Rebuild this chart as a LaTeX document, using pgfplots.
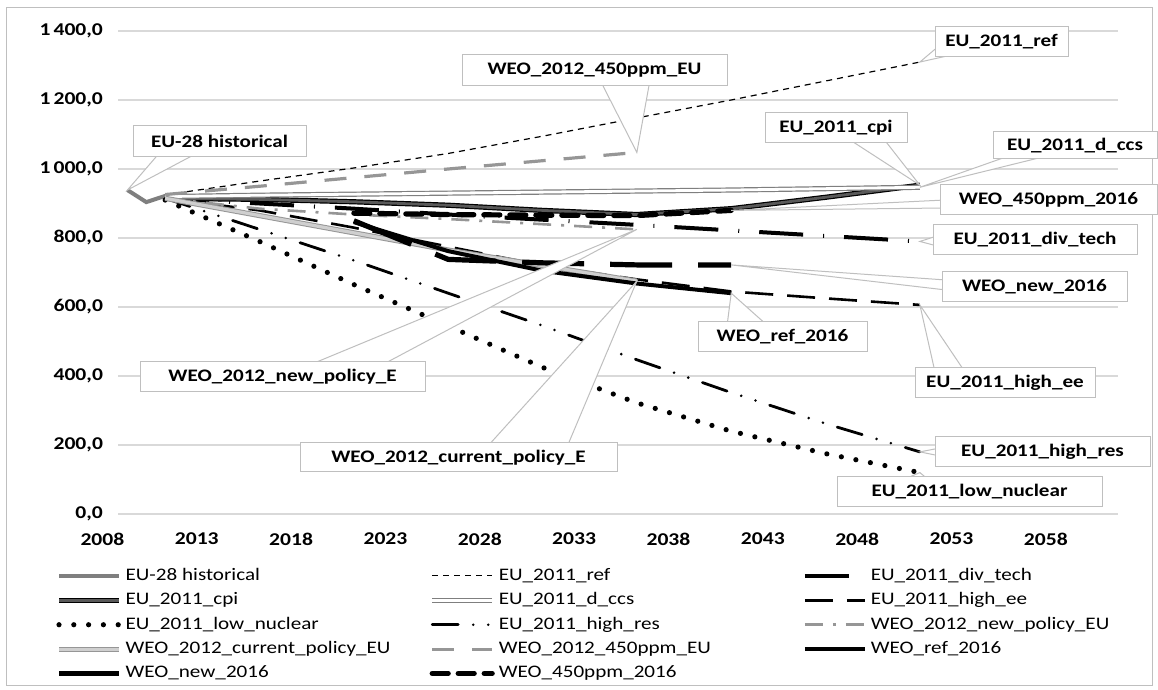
\documentclass[border=0pt]{standalone}
\usepackage{fontspec}
\setmainfont{Carlito}[FakeStretch=1.2]
\usepackage{pgfplots}
\pgfplotsset{compat=1.18}

\definecolor{histgray}{HTML}{7F7F7F}
\definecolor{gridgray}{HTML}{D9D9D9}
\definecolor{boxgray}{HTML}{BFBFBF}
\definecolor{midgray}{HTML}{969696}
\definecolor{palegray}{HTML}{CFCFCF}

\tikzset{
  cbox/.style={fill=white, draw=boxgray, line width=0.5pt},
  ctext/.style={font=\bfseries\fontsize{8.8}{10}\selectfont, inner sep=0pt},
}

% callout: box corners (px), two wedge base points (px), tip name, text
\newcommand{\callout}[7]{%
  \filldraw[cbox] #4 -- (#5) -- #3 -- cycle;
  \filldraw[cbox] #1 rectangle #2;
  \path #1 -- #2 node[midway, ctext] {#7};
}

\begin{document}
\begin{tikzpicture}
\useasboundingbox (0,0) rectangle (579pt,345pt);
\draw[boxgray, line width=0.5pt] (3pt,2pt) rectangle (576pt,341pt);

\begin{axis}[
  at={(59pt,88pt)}, anchor=south west,
  scale only axis, width=500pt, height=241.5pt,
  xmin=2007.5, xmax=2060.5, ymin=0, ymax=1400,
  xtick={2008,2013,2018,2023,2028,2033,2038,2043,2048,2053,2058},
  xticklabels={2008,2013,2018,2023,2028,2033,2038,2043,2048,2053,2058},
  ytick={0,200,400,600,800,1000,1200,1400},
  yticklabels={{0,0},{200,0},{400,0},{600,0},{800,0},{1\,000,0},{1\,200,0},{1\,400,0}},
  ymajorgrids, grid style={gridgray, line width=0.6pt},
  axis line style={draw=none}, tick style={draw=none},
  ticklabel style={font=\bfseries\fontsize{9}{10}\selectfont},
  xticklabel style={xshift=-12.5pt, yshift=-6pt},
  yticklabel style={xshift=-4pt},
  legend columns=3,
  legend style={at={(-0.068,-0.095)}, anchor=north west, draw=none, fill=none,
    font=\fontsize{8.8}{9.5}\selectfont, row sep=0.6pt,
    /tikz/every even column/.append style={column sep=0pt}},
  legend cell align=left,
  legend image code/.code={\draw[#1] (0pt,0pt) -- (30pt,0pt);},
]
% EU-28 historical
\addplot[histgray, line width=2pt] coordinates {
 (2008,939) (2009,904) (2010,922) (2011,916) (2012,914) (2013,911)};
\addlegendentry{\makebox[150pt][l]{EU-28 historical}}
% EU_2011_ref
\addplot[black, line width=0.6pt, dash pattern=on 3pt off 2.5pt] coordinates {
 (2010,925) (2015,965) (2020,1003) (2025,1045) (2030,1095) (2035,1148) (2040,1200) (2045,1255) (2050,1310)};
\addlegendentry{\makebox[150pt][l]{EU\_2011\_ref}}
% EU_2011_div_tech
\addplot[black, line width=2pt, dash pattern=on 22pt off 10pt on 0.5pt off 10pt] coordinates {
 (2010,915) (2015,900) (2020,885) (2025,868) (2030,853) (2035,838) (2040,822) (2045,806) (2050,790)};
\addlegendentry{EU\_2011\_div\_tech}
% EU_2011_cpi
\addplot[draw=black, double=black!65, double distance=1.4pt, line width=0.6pt] coordinates {
 (2010,915) (2015,912) (2020,905) (2025,895) (2030,880) (2035,868) (2040,885) (2045,918) (2050,953)};
\addlegendentry{\makebox[150pt][l]{EU\_2011\_cpi}}
% EU_2011_d_ccs
\addplot[draw=histgray, double=white, double distance=1.4pt, line width=0.6pt] coordinates {
 (2010,920) (2015,924) (2020,927) (2025,930) (2030,933) (2035,936) (2040,939) (2045,943) (2050,947)};
\addlegendentry{\makebox[150pt][l]{EU\_2011\_d\_ccs}}
% EU_2011_high_ee
\addplot[black, line width=1.3pt, dash pattern=on 14pt off 7pt] coordinates {
 (2010,915) (2015,880) (2020,830) (2025,775) (2030,720) (2035,680) (2040,645) (2045,625) (2050,606)};
\addlegendentry{EU\_2011\_high\_ee}
% EU_2011_low_nuclear
\addplot[black, line width=2.6pt, line cap=round, dash pattern=on 0pt off 7.4pt] coordinates {
 (2010,910) (2015,790) (2020,665) (2025,545) (2030,425) (2035,322) (2040,240) (2045,175) (2050,120)};
\addlegendentry{\makebox[150pt][l]{EU\_2011\_low\_nuclear}}
% EU_2011_high_res
\addplot[black, line width=1.4pt, line cap=round, dash pattern=on 13pt off 7.5pt on 0pt off 7.5pt on 0pt off 7.5pt] coordinates {
 (2010,915) (2015,825) (2020,735) (2025,640) (2030,546) (2035,447) (2040,352) (2045,262) (2050,180)};
\addlegendentry{\makebox[150pt][l]{EU\_2011\_high\_res}}
% WEO_2012_new_policy_EU
\addplot[midgray, line width=1.3pt, dash pattern=on 9pt off 5pt on 1.5pt off 5pt] coordinates {
 (2010,915) (2015,885) (2020,868) (2025,855) (2030,840) (2035,825)};
\addlegendentry{WEO\_2012\_new\_policy\_EU}
% WEO_2012_current_policy_EU
\addplot[draw=midgray, double=palegray, double distance=1.6pt, line width=0.5pt] coordinates {
 (2010,915) (2015,865) (2020,815) (2025,765) (2030,720) (2035,675)};
\addlegendentry{\makebox[150pt][l]{WEO\_2012\_current\_policy\_EU}}
% WEO_2012_450ppm_EU
\addplot[midgray, line width=1.6pt, dash pattern=on 11pt off 9pt] coordinates {
 (2010,926) (2015,950) (2020,975) (2025,1000) (2030,1024) (2035,1048)};
\addlegendentry{\makebox[150pt][l]{WEO\_2012\_450ppm\_EU}}
% WEO_ref_2016
\addplot[black, line width=2pt] coordinates {
 (2020,846) (2025,762) (2030,705) (2035,668) (2040,640)};
\addlegendentry{WEO\_ref\_2016}
% WEO_new_2016
\addplot[black, line width=2.6pt, dash pattern=on 31pt off 13pt] coordinates {
 (2020,850) (2025,738) (2030,728) (2035,722) (2040,722)};
\addlegendentry{\makebox[150pt][l]{WEO\_new\_2016}}
% WEO_450ppm_2016
\addplot[black, line width=2.6pt, line cap=round, dash pattern=on 8pt off 5pt] coordinates {
 (2020,872) (2025,868) (2030,866) (2035,865) (2040,880)};
\addlegendentry{WEO\_450ppm\_2016}

\coordinate (tHist) at (axis cs:2008,939);
\coordinate (tRef) at (axis cs:2050,1310);
\coordinate (tDiv) at (axis cs:2050,790);
\coordinate (tCpi) at (axis cs:2050,953);
\coordinate (tCcs) at (axis cs:2050,947);
\coordinate (tEe) at (axis cs:2050,606);
\coordinate (tNuc) at (axis cs:2050,120);
\coordinate (tRes) at (axis cs:2050,180);
\coordinate (tNp) at (axis cs:2035,825);
\coordinate (tCp) at (axis cs:2035,675);
\coordinate (tPpmEU) at (axis cs:2035,1048);
\coordinate (tRef16) at (axis cs:2040,640);
\coordinate (tNew16) at (axis cs:2040,722);
\coordinate (tPpm16) at (axis cs:2040,880);
\end{axis}

\begin{scope}[x=0.5pt, y=-0.5pt, shift={(0pt,345pt)}]
\callout{(133,126)}{(306,157)}{(162,150)}{(203,150)}{tHist}{}{EU-28 historical}
\callout{(462,55)}{(727,86)}{(600,80)}{(650,80)}{tPpmEU}{}{WEO\_2012\_450ppm\_EU}
\callout{(935,27)}{(1068,57)}{(940,45)}{(965,52)}{tRef}{}{EU\_2011\_ref}
\callout{(765,113)}{(907,143)}{(847,138)}{(883,138)}{tCpi}{}{EU\_2011\_cpi}
\callout{(993,132)}{(1157,159)}{(1020,152)}{(1063,152)}{tCcs}{}{EU\_2011\_d\_ccs}
\callout{(940,185)}{(1157,215)}{(945,200)}{(945,208)}{tPpm16}{}{WEO\_450ppm\_2016}
\callout{(933,225)}{(1137,255)}{(937,236)}{(937,246)}{tDiv}{}{EU\_2011\_div\_tech}
\callout{(942,272)}{(1127,302)}{(946,280)}{(946,290)}{tNew16}{}{WEO\_new\_2016}
\callout{(915,368)}{(1095,398)}{(935,372)}{(965,372)}{tEe}{}{EU\_2011\_high\_ee}
\callout{(698,322)}{(867,352)}{(727,326)}{(768,326)}{tRef16}{}{WEO\_ref\_2016}
\callout{(140,362)}{(425,392)}{(307,366)}{(380,366)}{tNp}{}{WEO\_2012\_new\_policy\_E}
\callout{(300,443)}{(617,472)}{(487,447)}{(567,447)}{tCp}{}{WEO\_2012\_current\_policy\_E}
\callout{(935,437)}{(1150,467)}{(940,448)}{(940,456)}{tRes}{}{EU\_2011\_high\_res}
\callout{(837,477)}{(1102,507)}{(900,481)}{(930,481)}{tNuc}{}{EU\_2011\_low\_nuclear}
\end{scope}
\end{tikzpicture}
\end{document}
